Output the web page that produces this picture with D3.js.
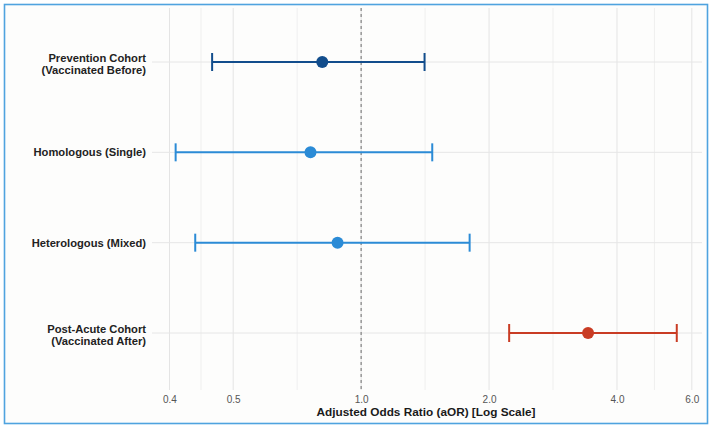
<!DOCTYPE html>
<html>
<head>
<meta charset="utf-8">
<script src="https://cdn.jsdelivr.net/npm/d3@7"></script>
<style>
  html, body { margin: 0; padding: 0; background: #ffffff; }
  svg { display: block; font-family: "Liberation Sans", Arial, sans-serif; }
</style>
</head>
<body>
<div id="chart"></div>
<script>
// ---- data ----
const categories = [
  "Prevention Cohort\n(Vaccinated Before)",
  "Homologous (Single)",
  "Heterologous (Mixed)",
  "Post-Acute Cohort\n(Vaccinated After)"
];
const aor   = [0.81, 0.76, 0.88, 3.42];
const lower = [0.446, 0.366, 0.407, 2.23];
const upper = [1.41, 1.47, 1.80, 5.53];
const groups = ["prevention", "subgroup", "subgroup", "postacute"];
const tickValues = [0.354, 0.5, 1, 2, 4, 6];
const tickLabels = ["0.4", "0.5", "1.0", "2.0", "4.0", "6.0"];
const minorValues = [0.42, 0.707, 1.414, 2.828, 4.9];
const xTitle = "Adjusted Odds Ratio (aOR) [Log Scale]";

const colors = { prevention: "#124d8c", subgroup: "#2b8bd6", postacute: "#c93c24" };

// ---- layout ----
const W = 712, H = 428;
const svg = d3.select("#chart").append("svg").attr("width", W).attr("height", H);

svg.append("rect").attr("x", 0).attr("y", 0).attr("width", W).attr("height", H).attr("fill", "#ffffff");
svg.append("rect").attr("x", 4.5).attr("y", 4.5).attr("width", 703).attr("height", 419)
  .attr("fill", "#fdfdfc").attr("stroke", "#4fa3df").attr("stroke-width", 1.6);

const panel = { left: 152, right: 702, top: 8, bottom: 390 };

const x = d3.scaleLog().domain([0.322, 6.34]).range([panel.left, panel.right]);
const y = d3.scalePoint().domain(categories).range([62, 333]);

// grid
const grid = svg.append("g");
grid.selectAll("line.minor").data(minorValues).enter().append("line")
  .attr("x1", d => x(d)).attr("x2", d => x(d))
  .attr("y1", panel.top).attr("y2", panel.bottom)
  .attr("stroke", "#ebebeb").attr("stroke-width", 0.8);
grid.selectAll("line.major").data(tickValues).enter().append("line")
  .attr("x1", d => x(d)).attr("x2", d => x(d))
  .attr("y1", panel.top).attr("y2", panel.bottom)
  .attr("stroke", "#e4e4e4").attr("stroke-width", 1);
grid.selectAll("line.h").data(categories).enter().append("line")
  .attr("x1", panel.left).attr("x2", panel.right)
  .attr("y1", d => y(d)).attr("y2", d => y(d))
  .attr("stroke", "#e6e6e6").attr("stroke-width", 1);

// reference line
svg.append("line")
  .attr("x1", x(1)).attr("x2", x(1))
  .attr("y1", panel.top).attr("y2", panel.bottom)
  .attr("stroke", "#8a8a8a").attr("stroke-width", 1.3)
  .attr("stroke-dasharray", "3,3");

// x axis
const xAxis = d3.axisBottom(x)
  .tickValues(tickValues)
  .tickFormat((d, i) => tickLabels[i])
  .tickSize(0).tickPadding(0);
const gx = svg.append("g").attr("transform", `translate(0, 395.5)`).call(xAxis);
gx.select(".domain").remove();
gx.selectAll("text").attr("fill", "#555").attr("font-size", 10)
  .style("font-family", "Liberation Sans, Arial, sans-serif");

svg.append("text")
  .attr("x", 426).attr("y", 415.5)
  .attr("text-anchor", "middle")
  .attr("font-size", 11.8).attr("font-weight", "bold").attr("fill", "#1a1a1a")
  .text(xTitle);

// y labels
const yl = svg.append("g");
categories.forEach((c, i) => {
  const lines = c.split("\n");
  const t = yl.append("text")
    .attr("x", 146).attr("text-anchor", "end")
    .attr("font-size", 11.2).attr("font-weight", "bold").attr("fill", "#222");
  const lh = 12.3;
  const y0 = y(c) - (lines.length - 1) * lh / 2 + 4 + (lines.length > 1 ? 2 : 0);
  lines.forEach((l, j) => {
    t.append("tspan").attr("x", 146).attr("y", y0 + j * lh).text(l);
  });
});

// error bars
const rows = categories.map((c, i) => ({ c, est: aor[i], lo: lower[i], hi: upper[i], g: groups[i] }));
const eb = svg.append("g");
rows.forEach(r => {
  const col = colors[r.g];
  const cy = y(r.c);
  eb.append("line").attr("x1", x(r.lo)).attr("x2", x(r.hi)).attr("y1", cy).attr("y2", cy)
    .attr("stroke", col).attr("stroke-width", 2);
  [r.lo, r.hi].forEach(v => {
    eb.append("line").attr("x1", x(v)).attr("x2", x(v)).attr("y1", cy - 9).attr("y2", cy + 9)
      .attr("stroke", col).attr("stroke-width", 2);
  });
  eb.append("circle").attr("cx", x(r.est)).attr("cy", cy).attr("r", 6).attr("fill", col);
});
</script>
</body>
</html>
